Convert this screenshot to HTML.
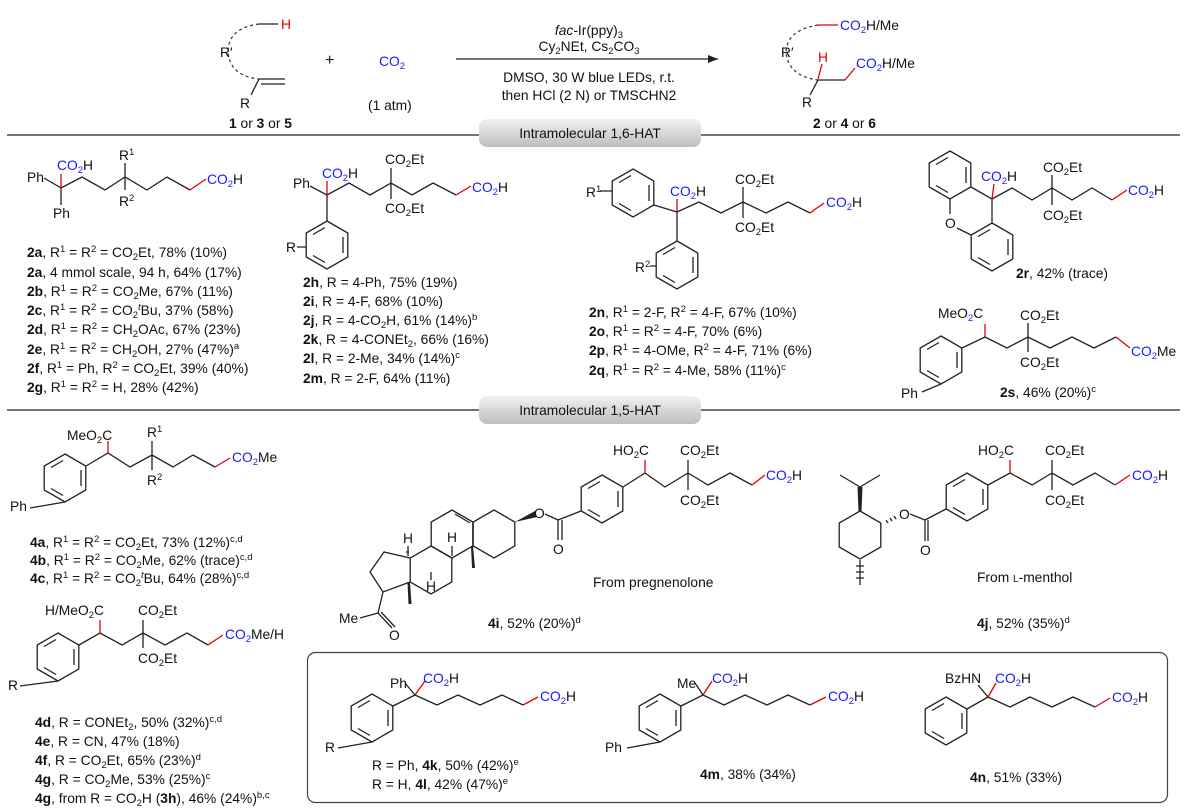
<!DOCTYPE html>
<html><head><meta charset="utf-8"><style>
html,body{margin:0;padding:0;background:#fff}
svg{display:block}
text{font-family:"Liberation Sans",Arial,sans-serif;font-size:13.8px;fill:#111}
.b{fill:#1a1aff}.r{fill:#e00000}
.sb{font-size:9.5px}
.k{stroke:#222;stroke-width:1.3;fill:none}
.rd{stroke:#e00000;stroke-width:1.3;fill:none}
.bd{font-weight:bold}
</style></head><body>
<svg width="1185" height="811" viewBox="0 0 1185 811" xmlns="http://www.w3.org/2000/svg">
<defs>
<g id="hx"><polygon class="k" points="0,-24 20.8,-12 20.8,12 0,24 -20.8,12 -20.8,-12"/><path class="k" d="M16,-8V8M-2,17.5L-14,10.5M-14,-10.5L-2,-17.5"/></g>
<g id="h0"><polygon class="k" points="0,-24 20.8,-12 20.8,12 0,24 -20.8,12 -20.8,-12"/></g>
</defs>

<!-- top scheme -->
<path d="M259,24 Q228,28 228,52 Q230,76 259,79" stroke="#333" stroke-dasharray="3,3" fill="none" stroke-width="1.2"/>
<path class="k" d="M259,24H278M259,79H285M261,84H285M259,79L251,95"/>
<text x="281" y="29" class="r">H</text>
<text x="220" y="57">R′</text>
<text x="240" y="108">R</text>
<text x="229" y="128"><tspan class="bd">1</tspan> or <tspan class="bd">3</tspan> or <tspan class="bd">5</tspan></text>
<text x="325" y="65" style="font-size:16px">+</text>
<text x="379" y="66" class="b">CO<tspan class="sb" dy="3">2</tspan></text>
<text x="368" y="110">(1 atm)</text>
<line x1="456" y1="59" x2="718" y2="59" stroke="#222" stroke-width="1.2"/>
<path d="M718,59 l-10,-4 v8z" fill="#222"/>
<text x="589" y="35" text-anchor="middle"><tspan font-style="italic">fac</tspan>-Ir(ppy)<tspan class="sb" dy="3">3</tspan></text>
<text x="589" y="51" text-anchor="middle">Cy<tspan class="sb" dy="3">2</tspan><tspan dy="-3">NEt, Cs</tspan><tspan class="sb" dy="3">2</tspan><tspan dy="-3">CO</tspan><tspan class="sb" dy="3">3</tspan></text>
<text x="589" y="82" text-anchor="middle">DMSO, 30 W blue LEDs, r.t.</text>
<text x="589" y="100" text-anchor="middle">then HCl (2 N) or TMSCHN2</text>

<path d="M818,25 Q787,30 786,52 Q788,76 818,80" stroke="#333" stroke-dasharray="3,3" fill="none" stroke-width="1.2"/>
<path class="rd" d="M818,25H838M822,64L818,79M845,80L855,68"/>
<path class="k" d="M818,80H845M818,80L810,95"/>
<text x="840" y="30" class="b">CO<tspan class="sb" dy="3">2</tspan><tspan dy="-3" fill="#111">H/Me</tspan></text>
<text x="781" y="57">R′</text>
<text x="818" y="62" class="r">H</text>
<text x="856" y="68" class="b">CO<tspan class="sb" dy="3">2</tspan><tspan dy="-3" fill="#111">H/Me</tspan></text>
<text x="802" y="107">R</text>
<text x="813" y="128"><tspan class="bd">2</tspan> or <tspan class="bd">4</tspan> or <tspan class="bd">6</tspan></text>

<!-- separators -->
<line x1="7" y1="135" x2="1180" y2="135" stroke="#222" stroke-width="1.2"/>
<defs><linearGradient id="gg" x1="0" y1="0" x2="0" y2="1"><stop offset="0" stop-color="#f2f2f2"/><stop offset="1" stop-color="#bdbdbd"/></linearGradient></defs>
<rect x="479" y="119" width="222" height="28" rx="8" fill="url(#gg)"/>
<text x="590" y="138" text-anchor="middle">Intramolecular 1,6-HAT</text>
<line x1="7" y1="410" x2="1180" y2="410" stroke="#222" stroke-width="1.2"/>
<rect x="479" y="396" width="222" height="28" rx="8" fill="url(#gg)"/>
<text x="590" y="415" text-anchor="middle">Intramolecular 1,5-HAT</text>

<!-- 2a -->
<path class="k" d="M44,178L61,188L61,205M61,188L82,177L105,190L125,177L147,190L167,177L190,190M125,177V163M125,177V190"/>
<path class="rd" d="M61,188V174M190,190L206,179"/>
<text x="27" y="182">Ph</text><text x="53" y="218">Ph</text>
<text x="57" y="170" class="b">CO<tspan class="sb" dy="3">2</tspan><tspan dy="-3" fill="#111">H</tspan></text>
<text x="119" y="160">R<tspan class="sb" dy="-5">1</tspan></text>
<text x="119" y="206">R<tspan class="sb" dy="-5">2</tspan></text>
<text x="207" y="184" class="b">CO<tspan class="sb" dy="3">2</tspan><tspan dy="-3" fill="#111">H</tspan></text>
<g>
<text x="27" y="257"><tspan class="bd">2a</tspan>, R<tspan class="sb" dy="-5">1</tspan><tspan dy="5"> = R</tspan><tspan class="sb" dy="-5">2</tspan><tspan dy="5"> = CO</tspan><tspan class="sb" dy="3">2</tspan><tspan dy="-3">Et, 78% (10%)</tspan></text>
<text x="27" y="277"><tspan class="bd">2a</tspan>, 4 mmol scale, 94 h, 64% (17%)</text>
<text x="27" y="296"><tspan class="bd">2b</tspan>, R<tspan class="sb" dy="-5">1</tspan><tspan dy="5"> = R</tspan><tspan class="sb" dy="-5">2</tspan><tspan dy="5"> = CO</tspan><tspan class="sb" dy="3">2</tspan><tspan dy="-3">Me, 67% (11%)</tspan></text>
<text x="27" y="315"><tspan class="bd">2c</tspan>, R<tspan class="sb" dy="-5">1</tspan><tspan dy="5"> = R</tspan><tspan class="sb" dy="-5">2</tspan><tspan dy="5"> = CO</tspan><tspan class="sb" dy="3">2</tspan><tspan class="sb" dy="-8" font-style="italic">t</tspan><tspan dy="5">Bu, 37% (58%)</tspan></text>
<text x="27" y="334"><tspan class="bd">2d</tspan>, R<tspan class="sb" dy="-5">1</tspan><tspan dy="5"> = R</tspan><tspan class="sb" dy="-5">2</tspan><tspan dy="5"> = CH</tspan><tspan class="sb" dy="3">2</tspan><tspan dy="-3">OAc, 67% (23%)</tspan></text>
<text x="27" y="354"><tspan class="bd">2e</tspan>, R<tspan class="sb" dy="-5">1</tspan><tspan dy="5"> = R</tspan><tspan class="sb" dy="-5">2</tspan><tspan dy="5"> = CH</tspan><tspan class="sb" dy="3">2</tspan><tspan dy="-3">OH, 27% (47%)</tspan><tspan class="sb" dy="-5">a</tspan></text>
<text x="27" y="373"><tspan class="bd">2f</tspan>, R<tspan class="sb" dy="-5">1</tspan><tspan dy="5"> = Ph, R</tspan><tspan class="sb" dy="-5">2</tspan><tspan dy="5"> = CO</tspan><tspan class="sb" dy="3">2</tspan><tspan dy="-3">Et, 39% (40%)</tspan></text>
<text x="27" y="392"><tspan class="bd">2g</tspan>, R<tspan class="sb" dy="-5">1</tspan><tspan dy="5"> = R</tspan><tspan class="sb" dy="-5">2</tspan><tspan dy="5"> = H, 28% (42%)</tspan></text>
</g>

<!-- 2h -->
<path class="k" d="M310,186L327,195V221M327,195L349,183L370,195L391,183L412,195L433,183L456,195M391,183V168M391,183V199M297,247H306"/>
<path class="rd" d="M327,195V181M456,195L471,186"/>
<use href="#hx" x="327" y="245"/>
<text x="293" y="188">Ph</text>
<text x="322" y="178" class="b">CO<tspan class="sb" dy="3">2</tspan><tspan dy="-3" fill="#111">H</tspan></text>
<text x="385" y="164">CO<tspan class="sb" dy="3">2</tspan><tspan dy="-3">Et</tspan></text>
<text x="385" y="213">CO<tspan class="sb" dy="3">2</tspan><tspan dy="-3">Et</tspan></text>
<text x="472" y="192" class="b">CO<tspan class="sb" dy="3">2</tspan><tspan dy="-3" fill="#111">H</tspan></text>
<text x="286" y="252">R</text>
<text x="303" y="287"><tspan class="bd">2h</tspan>, R = 4-Ph, 75% (19%)</text>
<text x="303" y="306"><tspan class="bd">2i</tspan>, R = 4-F, 68% (10%)</text>
<text x="303" y="325"><tspan class="bd">2j</tspan>, R = 4-CO<tspan class="sb" dy="3">2</tspan><tspan dy="-3">H, 61% (14%)</tspan><tspan class="sb" dy="-5">b</tspan></text>
<text x="303" y="344"><tspan class="bd">2k</tspan>, R = 4-CONEt<tspan class="sb" dy="3">2</tspan><tspan dy="-3">, 66% (16%)</tspan></text>
<text x="303" y="363"><tspan class="bd">2l</tspan>, R = 2-Me, 34% (14%)<tspan class="sb" dy="-5">c</tspan></text>
<text x="303" y="383"><tspan class="bd">2m</tspan>, R = 2-F, 64% (11%)</text>

<!-- 2n -->
<use href="#hx" x="633" y="193"/>
<use href="#hx" x="677" y="265"/>
<path class="k" d="M654,205L677,212V241M677,212L699,202L721,213L743,202L766,213L788,202L810,213M743,202V187M743,202V218M600,191H612M650,266H656"/>
<path class="rd" d="M677,212V199M810,213L824,203"/>
<text x="586" y="197">R<tspan class="sb" dy="-5">1</tspan></text>
<text x="635" y="272">R<tspan class="sb" dy="-5">2</tspan></text>
<text x="670" y="196" class="b">CO<tspan class="sb" dy="3">2</tspan><tspan dy="-3" fill="#111">H</tspan></text>
<text x="735" y="184">CO<tspan class="sb" dy="3">2</tspan><tspan dy="-3">Et</tspan></text>
<text x="735" y="232">CO<tspan class="sb" dy="3">2</tspan><tspan dy="-3">Et</tspan></text>
<text x="826" y="207" class="b">CO<tspan class="sb" dy="3">2</tspan><tspan dy="-3" fill="#111">H</tspan></text>
<text x="589" y="317"><tspan class="bd">2n</tspan>, R<tspan class="sb" dy="-5">1</tspan><tspan dy="5"> = 2-F, R</tspan><tspan class="sb" dy="-5">2</tspan><tspan dy="5"> = 4-F, 67% (10%)</tspan></text>
<text x="589" y="336"><tspan class="bd">2o</tspan>, R<tspan class="sb" dy="-5">1</tspan><tspan dy="5"> = R</tspan><tspan class="sb" dy="-5">2</tspan><tspan dy="5"> = 4-F, 70% (6%)</tspan></text>
<text x="589" y="355"><tspan class="bd">2p</tspan>, R<tspan class="sb" dy="-5">1</tspan><tspan dy="5"> = 4-OMe, R</tspan><tspan class="sb" dy="-5">2</tspan><tspan dy="5"> = 4-F, 71% (6%)</tspan></text>
<text x="589" y="375"><tspan class="bd">2q</tspan>, R<tspan class="sb" dy="-5">1</tspan><tspan dy="5"> = R</tspan><tspan class="sb" dy="-5">2</tspan><tspan dy="5"> = 4-Me, 58% (11%)</tspan><tspan class="sb" dy="-5">c</tspan></text>

<!-- 2r -->
<use href="#hx" x="950" y="175"/>
<use href="#hx" x="992" y="247"/>
<path class="k" d="M971,187L992,199L992,223M950,199V214M957,228L971,235"/>
<text x="945" y="228">O</text>
<path class="k" d="M992,199L1012,188L1032,200L1052,188L1072,200L1092,188L1112,200M1052,188V175M1052,188V205"/>
<path class="rd" d="M992,199L994,184M1112,200L1127,190"/>
<text x="981" y="181" class="b">CO<tspan class="sb" dy="3">2</tspan><tspan dy="-3" fill="#111">H</tspan></text>
<text x="1043" y="172">CO<tspan class="sb" dy="3">2</tspan><tspan dy="-3">Et</tspan></text>
<text x="1043" y="220">CO<tspan class="sb" dy="3">2</tspan><tspan dy="-3">Et</tspan></text>
<text x="1128" y="195" class="b">CO<tspan class="sb" dy="3">2</tspan><tspan dy="-3" fill="#111">H</tspan></text>
<text x="1016" y="278"><tspan class="bd">2r</tspan>, 42% (trace)</text>

<!-- 2s -->
<use href="#hx" x="941" y="360"/>
<path class="k" d="M962,348L985,337L1007,348L1028,337L1050,348L1072,337L1094,348L1116,337M1028,337V323M1028,337V352M941,384L922,392"/>
<path class="rd" d="M985,337V324M1116,337L1130,348"/>
<text x="938" y="318">MeO<tspan class="sb b" dy="3">2</tspan><tspan dy="-3">C</tspan></text>
<text x="1020" y="320">CO<tspan class="sb" dy="3">2</tspan><tspan dy="-3">Et</tspan></text>
<text x="1020" y="367">CO<tspan class="sb" dy="3">2</tspan><tspan dy="-3">Et</tspan></text>
<text x="1131" y="356" class="b">CO<tspan class="sb" dy="3">2</tspan><tspan dy="-3" fill="#111">Me</tspan></text>
<text x="901" y="398">Ph</text>
<text x="1000" y="397"><tspan class="bd">2s</tspan>, 46% (20%)<tspan class="sb" dy="-5">c</tspan></text>

<!-- 4a -->
<use href="#hx" x="65" y="478"/>
<path class="k" d="M86,466L108,453L130,467L152,455L173,467L193,455L215,467M152,455V441M152,455V470M65,502L30,508"/>
<path class="rd" d="M108,453V441M215,467L230,458"/>
<text x="67" y="440">MeO<tspan class="sb" dy="3">2</tspan><tspan dy="-3">C</tspan></text>
<text x="147" y="437">R<tspan class="sb" dy="-5">1</tspan></text>
<text x="147" y="485">R<tspan class="sb" dy="-5">2</tspan></text>
<text x="232" y="462" class="b">CO<tspan class="sb" dy="3">2</tspan><tspan dy="-3" fill="#111">Me</tspan></text>
<text x="10" y="511">Ph</text>
<text x="30" y="547"><tspan class="bd">4a</tspan>, R<tspan class="sb" dy="-5">1</tspan><tspan dy="5"> = R</tspan><tspan class="sb" dy="-5">2</tspan><tspan dy="5"> = CO</tspan><tspan class="sb" dy="3">2</tspan><tspan dy="-3">Et, 73% (12%)</tspan><tspan class="sb" dy="-5">c,d</tspan></text>
<text x="30" y="565"><tspan class="bd">4b</tspan>, R<tspan class="sb" dy="-5">1</tspan><tspan dy="5"> = R</tspan><tspan class="sb" dy="-5">2</tspan><tspan dy="5"> = CO</tspan><tspan class="sb" dy="3">2</tspan><tspan dy="-3">Me, 62% (trace)</tspan><tspan class="sb" dy="-5">c,d</tspan></text>
<text x="30" y="583"><tspan class="bd">4c</tspan>, R<tspan class="sb" dy="-5">1</tspan><tspan dy="5"> = R</tspan><tspan class="sb" dy="-5">2</tspan><tspan dy="5"> = CO</tspan><tspan class="sb" dy="3">2</tspan><tspan class="sb" dy="-8" font-style="italic">t</tspan><tspan dy="5">Bu, 64% (28%)</tspan><tspan class="sb" dy="-5">c,d</tspan></text>

<!-- 4d -->
<use href="#hx" x="58" y="657"/>
<path class="k" d="M79,645L100,633L122,645L143,633L165,645L187,633L208,645M143,633V620M143,633V648M58,681L20,686"/>
<path class="rd" d="M100,633V620M208,645L223,635"/>
<text x="45" y="615">H/MeO<tspan class="sb" dy="3">2</tspan><tspan dy="-3">C</tspan></text>
<text x="138" y="615">CO<tspan class="sb" dy="3">2</tspan><tspan dy="-3">Et</tspan></text>
<text x="138" y="663">CO<tspan class="sb" dy="3">2</tspan><tspan dy="-3">Et</tspan></text>
<text x="225" y="639" class="b">CO<tspan class="sb" dy="3">2</tspan><tspan dy="-3" fill="#111">Me/H</tspan></text>
<text x="8" y="690">R</text>
<text x="35" y="727"><tspan class="bd">4d</tspan>, R = CONEt<tspan class="sb" dy="3">2</tspan><tspan dy="-3">, 50% (32%)</tspan><tspan class="sb" dy="-5">c,d</tspan></text>
<text x="35" y="746"><tspan class="bd">4e</tspan>, R = CN, 47% (18%)</text>
<text x="35" y="765"><tspan class="bd">4f</tspan>, R = CO<tspan class="sb" dy="3">2</tspan><tspan dy="-3">Et, 65% (23%)</tspan><tspan class="sb" dy="-5">d</tspan></text>
<text x="35" y="784"><tspan class="bd">4g</tspan>, R = CO<tspan class="sb" dy="3">2</tspan><tspan dy="-3">Me, 53% (25%)</tspan><tspan class="sb" dy="-5">c</tspan></text>
<text x="35" y="803"><tspan class="bd">4g</tspan>, from R = CO<tspan class="sb" dy="3">2</tspan><tspan dy="-3">H (</tspan><tspan class="bd">3h</tspan>), 46% (24%)<tspan class="sb" dy="-5">b,c</tspan></text>

<!-- 4i steroid -->
<use href="#h0" x="494" y="534"/>
<use href="#h0" x="452" y="534"/>
<use href="#h0" x="431" y="570"/>
<path class="k" d="M455,514L470,523"/>
<path class="k" d="M410,558L384,552L370,572L383,592L410,582"/>
<path class="k" d="M383,592L378,613L360,618M378,613L392,628M381,612L395,627"/>
<path d="M410,582l-2.5,0l1,22h3z" fill="#222"/>
<path d="M473,546l-2,0l1,22h3z" fill="#222"/>
<path d="M515,522L535,511L537,517z" fill="#222"/>
<path class="k" d="M408,556V546M409,552h-3M452,556V546M431,572V580"/>
<text x="403" y="543">H</text><text x="447" y="542">H</text><text x="426" y="591">H</text>
<text x="339" y="623">Me</text>
<text x="389" y="640">O</text>
<text x="534" y="518">O</text>
<path class="k" d="M545,514L558,520L581,511M558,520V540M562,520V540"/>
<text x="553" y="554">O</text>
<use href="#hx" x="602" y="499"/>
<path class="k" d="M623,487L645,473L665,487L688,473L708,485L730,473L752,485M688,473V460M688,473V490"/>
<path class="rd" d="M645,473V460M752,485L765,475"/>
<text x="613" y="455"><tspan>HO</tspan><tspan class="sb" dy="3">2</tspan><tspan dy="-3">C</tspan></text>
<text x="680" y="455">CO<tspan class="sb" dy="3">2</tspan><tspan dy="-3">Et</tspan></text>
<text x="680" y="505">CO<tspan class="sb" dy="3">2</tspan><tspan dy="-3">Et</tspan></text>
<text x="766" y="480" class="b">CO<tspan class="sb" dy="3">2</tspan><tspan dy="-3" fill="#111">H</tspan></text>
<text x="593" y="587">From pregnenolone</text>
<text x="488" y="628"><tspan class="bd">4i</tspan>, 52% (20%)<tspan class="sb" dy="-5">d</tspan></text>

<!-- 4j menthol -->
<use href="#h0" x="860" y="535"/>
<path d="M858.5,511h3l1,-24h-5z" fill="#222"/>
<path class="k" d="M860,487L840,475M860,487L880,475M860,560V585M856,566h8M856,572h8M856,578h8M886,520l2,3M890,518l2,3M894,516l2,3"/>
<text x="899" y="519">O</text>
<path class="k" d="M910,514L925,520L946,509M925,520V541M928,520V541"/>
<text x="920" y="555">O</text>
<use href="#hx" x="967" y="497"/>
<path class="k" d="M988,485L1010,473L1032,485L1052,473L1073,485L1095,473L1115,485M1052,473V460M1052,473V490"/>
<path class="rd" d="M1010,473V460M1115,485L1130,475"/>
<text x="978" y="455">HO<tspan class="sb" dy="3">2</tspan><tspan dy="-3">C</tspan></text>
<text x="1045" y="455">CO<tspan class="sb" dy="3">2</tspan><tspan dy="-3">Et</tspan></text>
<text x="1045" y="505">CO<tspan class="sb" dy="3">2</tspan><tspan dy="-3">Et</tspan></text>
<text x="1132" y="480" class="b">CO<tspan class="sb" dy="3">2</tspan><tspan dy="-3" fill="#111">H</tspan></text>
<text x="977" y="582">From <tspan style="font-size:10px">L</tspan>-menthol</text>
<text x="977" y="628"><tspan class="bd">4j</tspan>, 52% (35%)<tspan class="sb" dy="-5">d</tspan></text>

<!-- bottom box -->
<rect x="307.5" y="652.5" width="860" height="150" rx="8" fill="none" stroke="#444" stroke-width="1.2"/>
<use href="#hx" x="372" y="718"/>
<path class="k" d="M393,706L415,695L437,705L458,695L480,705L502,695L523,705M415,695L405,683M372,742L338,748"/>
<path class="rd" d="M415,695L425,681M523,705L538,697"/>
<text x="390" y="688">Ph</text>
<text x="423" y="683" class="b">CO<tspan class="sb" dy="3">2</tspan><tspan dy="-3" fill="#111">H</tspan></text>
<text x="540" y="701" class="b">CO<tspan class="sb" dy="3">2</tspan><tspan dy="-3" fill="#111">H</tspan></text>
<text x="325" y="752">R</text>
<text x="372" y="770">R = Ph, <tspan class="bd">4k</tspan>, 50% (42%)<tspan class="sb" dy="-5">e</tspan></text>
<text x="372" y="789">R = H, <tspan class="bd">4l</tspan>, 42% (47%)<tspan class="sb" dy="-5">e</tspan></text>

<use href="#hx" x="660" y="718"/>
<path class="k" d="M681,706L703,695L724,705L745,695L767,705L788,695L810,705M703,695L695,683M660,742L627,748"/>
<path class="rd" d="M703,695L712,681M810,705L826,697"/>
<text x="677" y="688">Me</text>
<text x="712" y="683" class="b">CO<tspan class="sb" dy="3">2</tspan><tspan dy="-3" fill="#111">H</tspan></text>
<text x="828" y="701" class="b">CO<tspan class="sb" dy="3">2</tspan><tspan dy="-3" fill="#111">H</tspan></text>
<text x="605" y="752">Ph</text>
<text x="700" y="779"><tspan class="bd">4m</tspan>, 38% (34%)</text>

<use href="#hx" x="946" y="721"/>
<path class="k" d="M967,709L988,697L1010,707L1030,697L1052,707L1073,697L1095,707M988,697L978,685"/>
<path class="rd" d="M988,697L996,683M1095,707L1110,698"/>
<text x="945" y="683">BzHN</text>
<text x="995" y="683" class="b">CO<tspan class="sb" dy="3">2</tspan><tspan dy="-3" fill="#111">H</tspan></text>
<text x="1112" y="702" class="b">CO<tspan class="sb" dy="3">2</tspan><tspan dy="-3" fill="#111">H</tspan></text>
<text x="970" y="782"><tspan class="bd">4n</tspan>, 51% (33%)</text>
</svg>
</body></html>
